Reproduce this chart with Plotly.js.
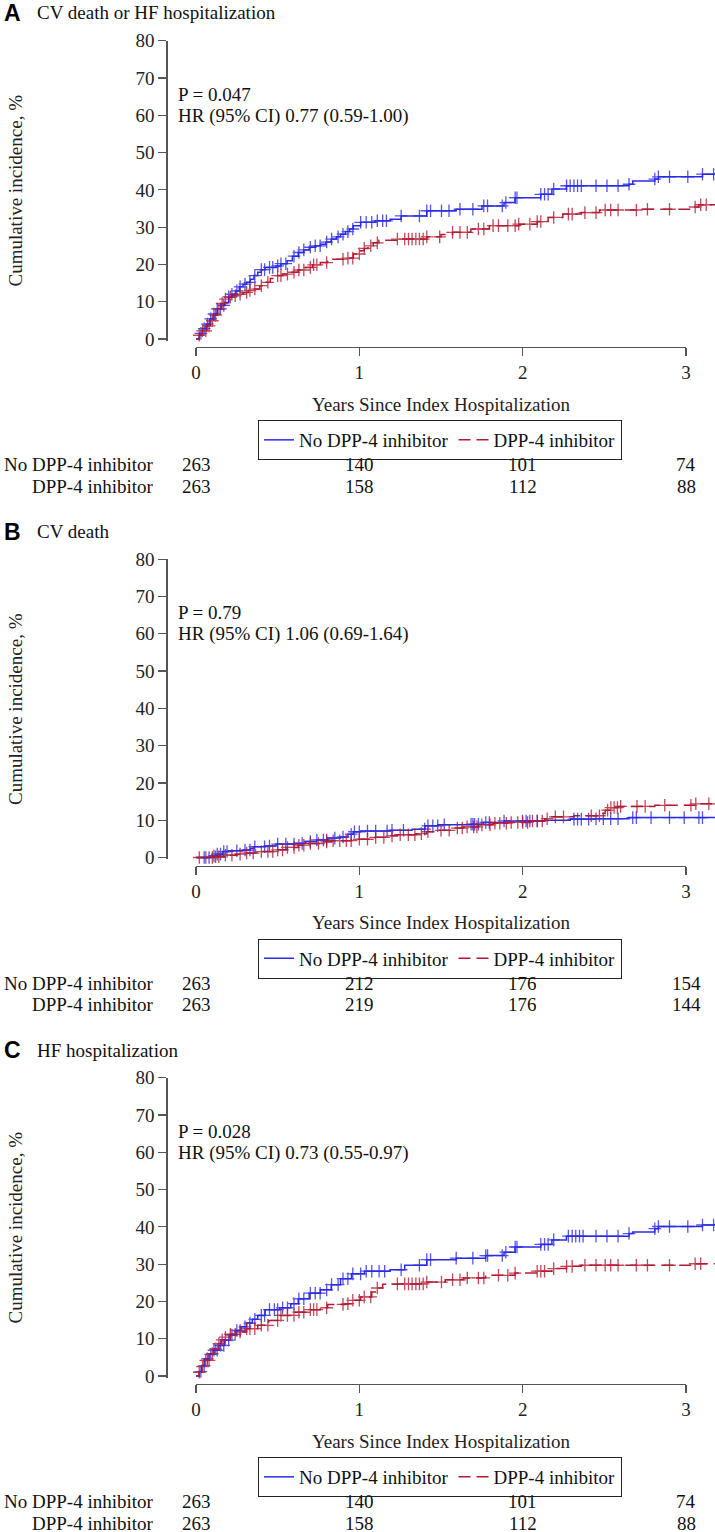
<!DOCTYPE html>
<html>
<head>
<meta charset="utf-8">
<script src="https://cdn.plot.ly/plotly-3.0.1.min.js"></script>
<style>html,body{margin:0;padding:0;background:#fff}#chart{width:715px;height:1532px}</style>
</head>
<body>
<div id="chart"></div>
<script>
// ---------------- DATA ----------------
const groupNames = ['No DPP-4 inhibitor', 'DPP-4 inhibitor'];
const panelLetters = ['A', 'B', 'C'];
const panelTitles = ['CV death or HF hospitalization', 'CV death', 'HF hospitalization'];
const pTexts = ['P = 0.047', 'P = 0.79', 'P = 0.028'];
const hrTexts = ['HR (95% CI) 0.77 (0.59-1.00)', 'HR (95% CI) 1.06 (0.69-1.64)', 'HR (95% CI) 0.73 (0.55-0.97)'];
const xTickVals = [0, 1, 2, 3];
const yTickVals = [0, 10, 20, 30, 40, 50, 60, 70, 80];

// Panel A: CV death or HF hospitalization
const timeA_no = [0,0.02,0.04,0.063,0.085,0.108,0.13,0.155,0.176,0.2,0.22,0.243,0.265,0.288,0.31,0.333,0.355,0.378,0.4,0.423,0.49,0.52,0.558,0.59,0.626,0.66,0.693,0.73,0.761,0.795,0.828,0.86,0.885,0.915,0.941,0.963,1.008,1.098,1.188,1.256,1.413,1.593,1.751,1.886,1.953,2.111,2.179,2.268,2.651,2.674,2.809,2.831,3.101,3.18];
const cumA_no  = [0,1.5,2.8,4,5.4,6.7,8.1,9,9.8,11.3,12,12.9,14,14.7,15.2,16,17,17.9,18.6,19.2,19.6,20.2,21,22.2,23.2,23.9,24.6,25,25.4,26,26.8,27.4,28.1,28.8,29.5,30.4,31.3,31.7,32.1,33,34.4,34.8,35.7,36.6,37.9,38.8,40.2,41.1,41.5,42.4,42.9,43.5,44.2,44.2];
const censA_no = [0.03,0.05,0.07,0.09,0.11,0.13,0.15,0.17,0.2,0.22,0.25,0.27,0.3,0.33,0.36,0.4,0.42,0.45,0.47,0.5,0.52,0.55,0.6,0.63,0.66,0.7,0.73,0.76,0.8,0.83,0.87,0.9,0.93,0.96,1.008,1.042,1.076,1.11,1.143,1.166,1.256,1.368,1.413,1.436,1.503,1.549,1.616,1.695,1.762,1.785,1.875,1.897,1.954,1.965,2.111,2.134,2.156,2.19,2.269,2.291,2.314,2.336,2.359,2.449,2.516,2.584,2.651,2.809,2.831,2.899,3.011,3.101,3.169];
const timeA_dpp = [0,0.02,0.04,0.063,0.086,0.108,0.13,0.155,0.176,0.2,0.22,0.25,0.288,0.32,0.356,0.39,0.423,0.455,0.49,0.53,0.58,0.625,0.67,0.715,0.761,0.806,0.918,0.963,1.008,1.03,1.053,1.085,1.12,1.233,1.413,1.5,1.571,1.683,1.796,1.976,2.089,2.156,2.246,2.359,2.471,2.697,3.034,3.079,3.18];
const cumA_dpp  = [0,1,2.2,3.5,4.9,6.4,8,9.5,10.7,11.2,11.6,12,12.5,13,13.4,14.3,15.2,16.2,17,17.4,17.9,18.5,19.2,19.9,20.5,21.4,21.7,22.8,23.7,24.3,25,25.8,26.5,26.8,27.4,28,28.6,29.5,30.4,30.8,31.5,32.6,33.5,33.9,34.6,34.8,35.4,36,36];
const censA_dpp = [0.02,0.04,0.06,0.08,0.1,0.12,0.14,0.16,0.18,0.21,0.24,0.27,0.31,0.33,0.36,0.4,0.44,0.5,0.52,0.56,0.6,0.63,0.66,0.7,0.72,0.74,0.8,0.9,0.93,0.96,1.0,1.03,1.07,1.11,1.233,1.278,1.301,1.323,1.346,1.368,1.391,1.413,1.492,1.571,1.616,1.661,1.729,1.762,1.819,1.852,1.909,1.954,1.976,2.044,2.089,2.111,2.19,2.28,2.303,2.381,2.449,2.505,2.539,2.584,2.696,2.764,2.899,3.056,3.09,3.124];
const riskA_no  = [263, 140, 101, 74];
const riskA_dpp = [263, 158, 112, 88];

// Panel B: CV death
const timeB_no = [0,0.086,0.13,0.164,0.198,0.288,0.333,0.356,0.423,0.49,0.603,0.67,0.738,0.806,0.885,0.93,0.963,1.008,1.188,1.323,1.402,1.481,1.683,1.76,1.886,2.134,2.291,2.449,2.651,3.18];
const cumB_no  = [0,0.4,0.9,1.6,1.8,2.0,2.5,2.9,3.1,3.6,3.8,4.3,4.7,5.2,5.5,6.25,6.9,7.1,7.3,7.6,8.5,8.75,8.9,9.4,9.8,10,10.3,10.4,10.7,10.7];
const censB_no = [0.05,0.08,0.11,0.13,0.15,0.17,0.19,0.25,0.3,0.33,0.36,0.42,0.45,0.5,0.55,0.6,0.65,0.7,0.74,0.78,0.8,0.85,0.9,0.95,0.97,1.0,1.05,1.1,1.17,1.2,1.27,1.4,1.42,1.45,1.48,1.52,1.684,1.695,1.706,1.729,1.774,1.796,1.886,1.999,2.021,2.044,2.089,2.314,2.336,2.359,2.404,2.449,2.494,2.539,2.584,2.674,2.696,2.786,2.899,2.989,3.079,3.101];
const timeB_dpp = [0,0.108,0.176,0.243,0.31,0.4,0.49,0.558,0.626,0.693,0.761,0.828,0.952,1.098,1.166,1.233,1.346,1.413,1.481,1.571,1.638,1.728,1.818,1.908,2.044,2.134,2.179,2.314,2.471,2.505,2.539,2.584,2.809,3.056,3.18];
const cumB_dpp  = [0,0.2,0.6,0.9,1.2,1.6,2.05,2.7,3.3,3.75,4.2,4.5,4.9,5.4,5.8,6.1,6.4,6.9,7.3,7.9,8.2,8.75,9.2,9.4,9.8,10.4,10.9,11.2,11.8,12.7,13.4,13.7,14.0,14.4,14.4];
const censB_dpp = [0.02,0.06,0.1,0.12,0.14,0.18,0.22,0.27,0.31,0.35,0.4,0.44,0.47,0.5,0.53,0.56,0.6,0.63,0.66,0.7,0.75,0.8,0.84,0.88,0.92,0.95,1.0,1.05,1.1,1.15,1.2,1.25,1.3,1.34,1.38,1.42,1.5,1.55,1.6,1.63,1.66,1.7,1.72,1.75,1.8,1.83,1.86,1.9,1.93,1.97,2.0,2.03,2.06,2.09,2.12,2.15,2.2,2.25,2.42,2.47,2.52,2.54,2.56,2.58,2.6,2.7,2.75,2.87,3.03,3.06,3.14];
const riskB_no  = [263, 212, 176, 154];
const riskB_dpp = [263, 219, 176, 144];

// Panel C: HF hospitalization
const timeC_no = [0,0.02,0.035,0.052,0.08,0.108,0.14,0.176,0.21,0.243,0.275,0.31,0.345,0.378,0.423,0.513,0.58,0.626,0.693,0.761,0.828,0.885,0.952,1.031,1.188,1.278,1.413,1.593,1.773,1.886,1.953,2.111,2.179,2.268,2.651,2.674,2.809,2.831,3.101,3.18];
const cumC_no  = [0,1.2,2.8,4.6,5.8,6.9,8.2,9.6,11,12.2,13.2,14.2,15.2,16.25,17.8,18.3,19.4,20.7,22.2,23.1,24.5,26.1,27.4,28.1,28.5,29.7,31.2,31.6,32.3,33.2,34.6,35.3,36.5,37.5,38.2,38.6,39.5,40.1,40.5,40.5];
const censC_no = [0.03,0.05,0.07,0.09,0.11,0.13,0.15,0.17,0.2,0.22,0.25,0.27,0.3,0.33,0.36,0.4,0.42,0.45,0.48,0.5,0.53,0.56,0.6,0.63,0.66,0.7,0.73,0.76,0.8,0.83,0.87,0.9,0.93,0.96,1.008,1.042,1.076,1.121,1.155,1.256,1.368,1.413,1.436,1.593,1.695,1.774,1.785,1.875,1.897,1.954,1.965,2.111,2.134,2.156,2.19,2.28,2.303,2.325,2.348,2.37,2.449,2.516,2.584,2.651,2.809,2.831,2.899,3.011,3.101,3.169];
const timeC_dpp = [0,0.02,0.035,0.052,0.086,0.108,0.13,0.155,0.176,0.21,0.243,0.31,0.378,0.445,0.513,0.603,0.693,0.761,0.806,0.918,0.952,1.008,1.076,1.11,1.143,1.233,1.413,1.526,1.638,1.773,1.953,2.089,2.179,2.268,2.359,3.056,3.18];
const cumC_dpp  = [0,1,2.5,4.2,6,7.3,8.7,9.7,10.4,11.2,11.8,12.7,13.6,14.9,16.25,17.1,17.8,18.3,19.2,19.4,20.3,21.2,22.5,23.6,24.6,24.7,25.2,25.8,26.3,27.0,27.6,28.1,28.8,29.4,29.7,30.1,30.1];
const censC_dpp = [0.02,0.04,0.06,0.08,0.1,0.12,0.14,0.16,0.18,0.21,0.24,0.27,0.31,0.33,0.36,0.4,0.44,0.5,0.52,0.56,0.6,0.63,0.66,0.7,0.72,0.74,0.8,0.9,0.93,0.96,1.0,1.03,1.07,1.11,1.233,1.278,1.301,1.323,1.346,1.368,1.391,1.413,1.503,1.571,1.616,1.661,1.729,1.762,1.852,1.909,1.954,2.089,2.111,2.134,2.19,2.269,2.303,2.381,2.449,2.505,2.539,2.584,2.696,2.764,2.899,3.056,3.09];
const riskC_no  = [263, 140, 101, 74];
const riskC_dpp = [263, 158, 112, 88];

// ---------------- LAYOUT CONSTANTS ----------------
const W = 715, H = 1532, STEP = 518.5;
const BLUE = '#2b2be6', RED = '#b31b32';
const FONT = 'Liberation Serif, Times New Roman, serif';
const X0PX = 196, X3PX = 686, YAXPX = 167.5;
const pxPerYr = (X3PX - X0PX) / 3;
const Y80 = 40.7, Y0 = 339;
const unit = (Y0 - Y80) / 80;
const py = p => 1 - p / H;
const pxf = p => p / W;
function stepAt(ts, vs, t) {
  let v = vs[0];
  for (let i = 0; i < ts.length; i++) { if (ts[i] <= t) v = vs[i]; else break; }
  return v;
}

const panels = [
  {noT: timeA_no, noV: cumA_no, noC: censA_no, dT: timeA_dpp, dV: cumA_dpp, dC: censA_dpp, rNo: riskA_no, rD: riskA_dpp},
  {noT: timeB_no, noV: cumB_no, noC: censB_no, dT: timeB_dpp, dV: cumB_dpp, dC: censB_dpp, rNo: riskB_no, rD: riskB_dpp},
  {noT: timeC_no, noV: cumC_no, noC: censC_no, dT: timeC_dpp, dV: cumC_dpp, dC: censC_dpp, rNo: riskC_no, rD: riskC_dpp}
];

const traces = [];
const layout = {
  width: W, height: H, margin: {l: 0, r: 0, t: 0, b: 0},
  paper_bgcolor: '#fff', plot_bgcolor: 'rgba(0,0,0,0)',
  font: {family: FONT, size: 19, color: '#111'},
  showlegend: true, annotations: []
};
const axFont = {family: FONT, size: 19, color: '#222'};
const txtFont = {family: FONT, size: 19, color: '#111'};

panels.forEach((P, k) => {
  const o = k * STEP;
  const xId = k ? 'x' + (k + 1) : 'x';
  const yId = k ? 'y' + (k + 1) : 'y';
  const xsId = 'x' + (k + 4);
  const legId = k ? 'legend' + (k + 1) : 'legend';

  layout[k ? 'xaxis' + (k + 1) : 'xaxis'] = {
    domain: [pxf(YAXPX), 1],
    range: [(YAXPX - X0PX) / pxPerYr, (W - X0PX) / pxPerYr],
    visible: false, anchor: yId, fixedrange: true
  };
  layout[k ? 'yaxis' + (k + 1) : 'yaxis'] = {
    domain: [py(Y0 + o + 0.5 * unit), py(Y80 + o)],
    range: [-0.5, 80], tickvals: yTickVals, ticks: 'outside', ticklen: 8, tickwidth: 1.2,
    tickcolor: '#555', showline: true, linecolor: '#555', linewidth: 1.3,
    showgrid: false, zeroline: false, tickfont: axFont, anchor: xId, fixedrange: true,
    title: {text: 'Cumulative incidence, %', font: axFont, standoff: 107}
  };
  layout['xaxis' + (k + 4)] = {
    domain: [pxf(X0PX), pxf(X3PX)], range: [0, 3], anchor: 'free', position: py(347 + o),
    tickvals: xTickVals, ticks: 'outside', ticklen: 8, tickwidth: 1.2, tickcolor: '#555',
    showline: true, linecolor: '#555', linewidth: 1.3, showgrid: false, zeroline: false,
    tickfont: axFont, ticklabelstandoff: 0, fixedrange: true,
    title: {text: 'Years Since Index Hospitalization', font: axFont, standoff: 15}
  };
  layout[legId] = {
    orientation: 'h', x: pxf(440), xanchor: 'center', y: py(440 + o), yanchor: 'middle',
    bordercolor: '#222', borderwidth: 1, bgcolor: '#fff',
    font: txtFont, itemwidth: 30, tracegroupgap: 0
  };

  traces.push({
    x: P.noT, y: P.noV, xaxis: xId, yaxis: yId, legend: legId, mode: 'lines', name: groupNames[0],
    line: {color: BLUE, width: 1.5, shape: 'hv'}, showlegend: true
  });
  traces.push({
    x: P.dT, y: P.dV, xaxis: xId, yaxis: yId, legend: legId, mode: 'lines', name: groupNames[1],
    line: {color: RED, width: 1.5, shape: 'hv', dash: '12px,6px'}, showlegend: true
  });
  traces.push({
    x: P.noC, y: P.noC.map(t => stepAt(P.noT, P.noV, t)), xaxis: xId, yaxis: yId, mode: 'markers',
    marker: {symbol: 'cross-thin', size: 9, line: {color: BLUE, width: 1.3}}, opacity: 0.8,
    showlegend: false, hoverinfo: 'skip', cliponaxis: false
  });
  traces.push({
    x: P.dC, y: P.dC.map(t => stepAt(P.dT, P.dV, t)), xaxis: xId, yaxis: yId, mode: 'markers',
    marker: {symbol: 'cross-thin', size: 9, line: {color: RED, width: 1.3}}, opacity: 0.8,
    showlegend: false, hoverinfo: 'skip', cliponaxis: false
  });

  const A = layout.annotations;
  A.push({xref: 'paper', yref: 'paper', x: pxf(2), y: py(13 + o), xanchor: 'left', yanchor: 'middle',
    text: '<b>' + panelLetters[k] + '</b>', showarrow: false,
    font: {family: 'Liberation Sans, Arial, sans-serif', size: 23, color: '#000'}});
  A.push({xref: 'paper', yref: 'paper', x: pxf(35), y: py(13 + o), xanchor: 'left', yanchor: 'middle',
    text: panelTitles[k], showarrow: false, font: txtFont});
  A.push({xref: 'paper', yref: 'paper', x: pxf(176), y: py(94 + o), xanchor: 'left', yanchor: 'middle',
    text: pTexts[k], showarrow: false, font: txtFont});
  A.push({xref: 'paper', yref: 'paper', x: pxf(176), y: py(115.7 + o), xanchor: 'left', yanchor: 'middle',
    text: hrTexts[k], showarrow: false, font: txtFont});
  [P.rNo, P.rD].forEach((row, r) => {
    const yy = py(464 + 21.5 * r + o);
    A.push({xref: 'paper', yref: 'paper', x: pxf(155), y: yy, xanchor: 'right', yanchor: 'middle',
      text: groupNames[r], showarrow: false, font: txtFont, height: 18, valign: 'middle', borderpad: 0});
    row.forEach((n, i) => {
      A.push({xref: xsId, yref: 'paper', x: xTickVals[i], y: yy, xanchor: 'center', yanchor: 'middle',
        text: String(n), showarrow: false, font: txtFont, height: 18, valign: 'middle', borderpad: 0});
    });
  });
});

Plotly.newPlot('chart', traces, layout, {staticPlot: true, displayModeBar: false});
</script>
</body>
</html>
